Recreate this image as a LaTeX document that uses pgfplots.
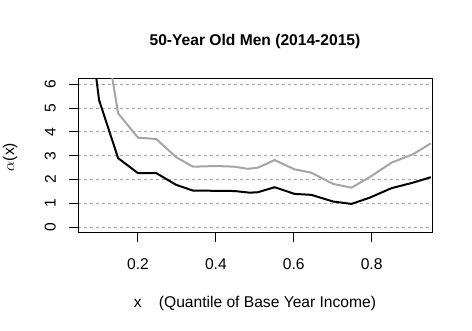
\documentclass[border=0pt]{standalone}
\usepackage{pgfplots}
\pgfplotsset{compat=1.18}
\usepackage{fontspec}
\setmainfont{Liberation Sans}
\definecolor{lgray}{RGB}{165,165,165}
\definecolor{ggrid}{RGB}{165,165,165}
\begin{document}
\fontsize{11.7}{14}\selectfont
\begin{tikzpicture}
\useasboundingbox (-58.5pt,-73.5pt) rectangle (295.5pt,174.75pt);
\begin{axis}[
  at={(0,0)}, anchor=south west,
  scale only axis, width=265.5pt, height=116.25pt,
  xmin=0.046, xmax=0.955, ymin=-0.24, ymax=6.26,
  xtick={0.2,0.4,0.6,0.8},
  xticklabels={0.2,0.4,0.6,0.8},
  ytick={0,1,2,3,4,5,6},
  yticklabels={0,1,2,3,4,5,6},
  tick align=outside, tick pos=left,
  major tick length=6.75pt,
  every tick/.style={black, line width=0.75pt},
  axis line style={line width=0.75pt},
  ymajorgrids, grid style={ggrid, line width=0.75pt, dash pattern=on 2.25pt off 2.25pt},
  xticklabel style={anchor=center, font=\fontsize{11.7}{14}\selectfont},
  xticklabel shift=16.5pt,
  yticklabel style={rotate=90, anchor=center, font=\fontsize{11.7}{14}\selectfont},
  yticklabel shift=14pt,
  /pgf/number format/assume math mode=true,
  clip=true,
]
\addplot[black, line width=1.5pt] coordinates {
(0.088,6.9) (0.093,6.26) (0.100,5.34) (0.149,2.90) (0.200,2.27) (0.247,2.27)
(0.298,1.78) (0.341,1.54) (0.448,1.52) (0.487,1.45) (0.508,1.47)
(0.551,1.68) (0.602,1.40) (0.645,1.36) (0.701,1.08) (0.748,0.98)
(0.795,1.24) (0.851,1.64) (0.906,1.87) (0.952,2.10)
};
\addplot[lgray, line width=1.5pt] coordinates {
(0.131,6.8) (0.134,6.26) (0.149,4.78) (0.200,3.76) (0.247,3.70)
(0.298,2.94) (0.341,2.54) (0.401,2.57) (0.448,2.54) (0.482,2.45) (0.508,2.50)
(0.551,2.82) (0.602,2.43) (0.645,2.29) (0.701,1.82) (0.748,1.66)
(0.795,2.10) (0.851,2.71) (0.906,3.06) (0.952,3.52)
};
\end{axis}
\node[font=\fontsize{11.7}{14}\selectfont\bfseries] at (132.75pt,144pt) {50-Year Old Men (2014-2015)};
\node[font=\fontsize{11.7}{14}\selectfont] at (132.75pt,-52.5pt) {x\hspace{1.1em}(Quantile of Base Year Income)};
\node[font=\fontsize{11.7}{14}\selectfont, rotate=90] at (-51pt,57pt) {$\alpha$(x)};
\end{tikzpicture}
\end{document}
